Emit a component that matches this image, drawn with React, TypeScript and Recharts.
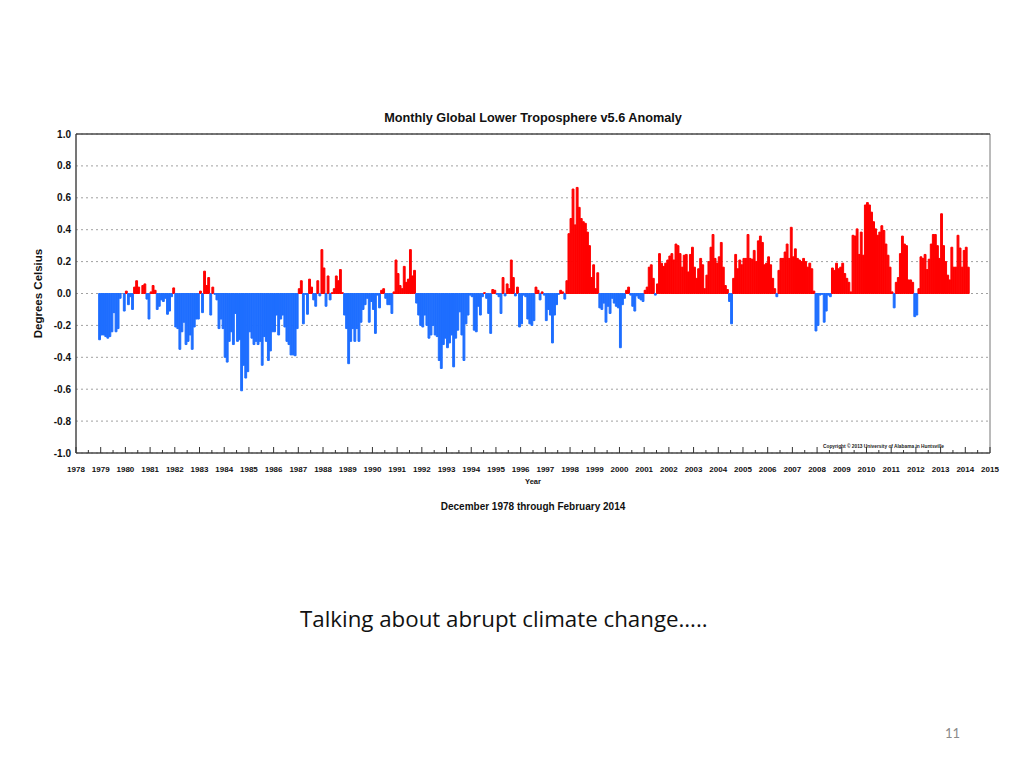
import React from 'react';
import { BarChart, Bar, XAxis, YAxis, CartesianGrid, Cell, ReferenceArea } from 'recharts';

// Monthly anomalies (deg C), December 1978 through February 2014
const START_YEAR = 1978;
const START_MONTH = 12;
const anomalies: number[] = [
  -0.29,
  // 1979
  -0.26, -0.26, -0.27, -0.28, -0.27, -0.24, -0.12, -0.24, -0.22, -0.03, 0.0, -0.11,
  // 1980
  0.015, -0.07, -0.02, -0.1, 0.04, 0.08, 0.04, 0.0, 0.05, 0.06, -0.035, -0.16,
  // 1981
  0.01, 0.05, 0.02, -0.1, -0.08, -0.04, -0.05, -0.03, -0.13, -0.11, -0.02, 0.035,
  // 1982
  -0.21, -0.22, -0.35, -0.24, -0.18, -0.32, -0.3, -0.26, -0.35, -0.21, -0.16, -0.16,
  // 1983
  0.015, -0.12, 0.14, 0.05, 0.1, -0.135, 0.04, -0.005, -0.04, -0.22, -0.16, -0.22,
  // 1984
  -0.4, -0.43, -0.3, -0.24, -0.32, -0.125, -0.3, -0.29, -0.61, -0.45, -0.53, -0.49,
  // 1985
  -0.24, -0.28, -0.32, -0.3, -0.32, -0.3, -0.45, -0.27, -0.3, -0.42, -0.36, -0.24,
  // 1986
  -0.24, -0.135, -0.26, -0.16, -0.135, -0.21, -0.3, -0.32, -0.385, -0.385, -0.39, -0.22,
  // 1987
  0.03, 0.08, -0.19, -0.005, -0.13, 0.09, 0.04, -0.04, -0.08, 0.08, -0.015, 0.275,
  // 1988
  0.16, -0.08, 0.11, -0.04, 0.005, 0.03, 0.11, 0.08, 0.15, 0.005, -0.135, -0.22,
  // 1989
  -0.44, -0.3, -0.22, -0.3, -0.22, -0.3, -0.18, -0.1, -0.07, -0.03, -0.18, -0.05,
  // 1990
  -0.1, -0.25, -0.01, -0.09, 0.02, 0.03, -0.03, -0.07, -0.07, -0.125, 0.01, 0.21,
  // 1991
  0.125, 0.05, 0.03, 0.17, 0.07, 0.09, 0.275, 0.11, 0.145, -0.06, -0.135, -0.2,
  // 1992
  -0.21, -0.135, -0.2, -0.28, -0.26, -0.2, -0.26, -0.27, -0.42, -0.47, -0.32, -0.28,
  // 1993
  -0.34, -0.31, -0.26, -0.46, -0.28, -0.23, -0.115, -0.26, -0.42, -0.19, -0.135, -0.01,
  // 1994
  -0.02, -0.23, -0.24, -0.08, -0.135, -0.02, 0.005, -0.03, -0.125, -0.25, 0.025, 0.02,
  // 1995
  -0.005, -0.02, -0.125, 0.1, -0.015, 0.06, 0.03, 0.21, 0.1, -0.015, 0.04, -0.21,
  // 1996
  -0.19, -0.01, -0.02, -0.16, -0.19, -0.2, -0.17, 0.04, 0.02, -0.04, 0.01, -0.01,
  // 1997
  -0.17, -0.1, -0.135, -0.31, -0.135, -0.07, -0.005, 0.02, 0.01, -0.035, 0.08, 0.375,
  // 1998
  0.47, 0.655, 0.43, 0.665, 0.54, 0.47, 0.45, 0.44, 0.385, 0.3, 0.1, 0.18,
  // 1999
  0.03, 0.13, -0.09, -0.1, -0.06, -0.18, -0.08, -0.125, -0.03, -0.06, -0.08, -0.09,
  // 2000
  -0.34, -0.07, -0.03, 0.02, 0.04, -0.01, -0.08, -0.11, -0.015, -0.03, -0.04, -0.05,
  // 2001
  0.02, 0.04, 0.165, 0.18, 0.095, -0.01, 0.06, 0.25, 0.19, 0.17, 0.19, 0.21,
  // 2002
  0.235, 0.25, 0.21, 0.31, 0.3, 0.25, 0.165, 0.24, 0.245, 0.135, 0.245, 0.29,
  // 2003
  0.165, 0.095, 0.155, 0.22, 0.18, 0.03, 0.115, 0.2, 0.29, 0.37, 0.22, 0.19,
  // 2004
  0.23, 0.32, 0.165, 0.05, 0.025, -0.05, -0.19, 0.095, 0.245, 0.155, 0.21, 0.18,
  // 2005
  0.22, 0.22, 0.37, 0.22, 0.215, 0.27, 0.2, 0.33, 0.36, 0.32, 0.18, 0.19,
  // 2006
  0.23, 0.18, 0.095, 0.03, -0.02, 0.145, 0.22, 0.22, 0.26, 0.31, 0.22, 0.415,
  // 2007
  0.23, 0.28, 0.22, 0.21, 0.2, 0.22, 0.2, 0.165, 0.19, 0.155, 0.015, -0.235,
  // 2008
  -0.2, -0.01, -0.005, -0.18, -0.11, -0.01, -0.02, 0.16, 0.145, 0.19, 0.155, 0.165,
  // 2009
  0.19, 0.125, 0.095, 0.07, 0.01, 0.365, 0.36, 0.405, 0.245, 0.385, 0.24, 0.555,
  // 2010
  0.57, 0.555, 0.51, 0.45, 0.405, 0.365, 0.385, 0.425, 0.395, 0.31, 0.24, 0.165,
  // 2011
  0.01, -0.09, 0.07, 0.1, 0.25, 0.36, 0.31, 0.3, 0.085, 0.085, 0.07, -0.145,
  // 2012
  -0.135, 0.03, 0.23, 0.22, 0.245, 0.15, 0.215, 0.31, 0.37, 0.37, 0.3, 0.22,
  // 2013
  0.5, 0.3, 0.2, 0.115, 0.085, 0.29, 0.165, 0.165, 0.365, 0.285, 0.165, 0.27,
  // 2014
  0.29, 0.165,
];

const yearTicks: number[] = [
  1978, 1979, 1980, 1981, 1982, 1983, 1984, 1985, 1986, 1987, 1988, 1989, 1990,
  1991, 1992, 1993, 1994, 1995, 1996, 1997, 1998, 1999, 2000, 2001, 2002, 2003,
  2004, 2005, 2006, 2007, 2008, 2009, 2010, 2011, 2012, 2013, 2014, 2015,
];
const halfYearTicks: number[] = yearTicks.slice(0, -1).map((y) => y + 0.5);
const xTicks: number[] = [...yearTicks, ...halfYearTicks].sort((a, b) => a - b);
const yTicks: number[] = [-1, -0.8, -0.6, -0.4, -0.2, 0, 0.2, 0.4, 0.6, 0.8, 1];

const data = anomalies.map((v, i) => {
  const m = START_MONTH - 1 + i;
  return { t: START_YEAR + m / 12 + 1 / 24, v };
});

const RED = '#ff0000';
const BLUE = '#1e6eff';
const FONT = "'Liberation Sans', Arial, Helvetica, sans-serif";

const BottomTick = (props: any) => {
  const { x, y, payload } = props;
  const major = Number.isInteger(payload.value);
  return (
    <g>
      <line x1={x} x2={x} y1={y} y2={y - (major ? 6 : 3)} stroke="#333" strokeWidth={1} />
      {major && (
        <text x={x} y={y + 19} textAnchor="middle" fontSize={8} fontWeight="bold" fill="#111" fontFamily={FONT}>
          {payload.value}
        </text>
      )}
    </g>
  );
};

const TopTick = (props: any) => {
  const { x, y, payload } = props;
  const major = Number.isInteger(payload.value);
  return <line x1={x} x2={x} y1={y} y2={y + (major ? 6 : 3)} stroke="#333" strokeWidth={1} />;
};

const YLabel = (props: any) => {
  const { viewBox } = props;
  const cx = viewBox.x + 42;
  const cy = viewBox.y + viewBox.height / 2;
  return (
    <text x={cx} y={cy} transform={`rotate(-90 ${cx} ${cy})`} textAnchor="middle" fontSize={11.5} fontWeight="bold" fill="#111" fontFamily={FONT}>
      Degrees Celsius
    </text>
  );
};

export default function App() {
  return (
    <div style={{ position: 'absolute', left: 0, top: 0, width: 1024, height: 768, background: '#fff', overflow: 'hidden', fontFamily: FONT }}>
      <div style={{ position: 'absolute', left: 0, width: 1066, top: 111, textAlign: 'center', fontSize: 12.7, fontWeight: 'bold', color: '#111' }}>
        Monthly Global Lower Troposphere v5.6 Anomaly
      </div>
      <div style={{ position: 'absolute', left: 0, top: 100 }}>
        <BarChart width={1024} height={400} data={data} margin={{ top: 33, right: 34, bottom: 17, left: 0 }}>
          <CartesianGrid vertical={false} stroke="#a0a0a0" strokeDasharray="2 3" xAxisId="bottom" />
          <XAxis
            xAxisId="bottom"
            dataKey="t"
            type="number"
            domain={[1978, 2015]}
            ticks={xTicks}
            interval={0}
            tickSize={0}
            tickMargin={0}
            tickLine={false}
            axisLine={{ stroke: '#333' }}
            tick={<BottomTick />}
            height={30}
            allowDataOverflow
          />
          <XAxis
            xAxisId="top"
            orientation="top"
            type="number"
            domain={[1978, 2015]}
            ticks={xTicks}
            interval={0}
            tickSize={0}
            tickMargin={0}
            tickLine={false}
            axisLine={{ stroke: '#333' }}
            tick={<TopTick />}
            height={1}
            allowDataOverflow
          />
          <YAxis
            type="number"
            domain={[-1, 1]}
            ticks={yTicks}
            interval={0}
            width={76}
            tickLine={false}
            tickSize={0}
            tickMargin={5}
            axisLine={{ stroke: '#333' }}
            tickFormatter={(v: number) => v.toFixed(1)}
            tick={{ fontSize: 10, fontWeight: 'bold', fill: '#111', fontFamily: FONT }}
            label={<YLabel />}
            allowDataOverflow
          />
          <Bar dataKey="v" xAxisId="bottom" barSize={2.7} isAnimationActive={false}>
            {data.map((d, i) => {
              const c = d.v >= 0 ? RED : BLUE;
              return <Cell key={i} fill={c} stroke={c} strokeWidth={1} />;
            })}
          </Bar>
          <ReferenceArea xAxisId="bottom" x1={1978} x2={2015} y1={-1} y2={1} fill="none" stroke="#777" strokeWidth={1} ifOverflow="visible" />
        </BarChart>
      </div>
      <div style={{ position: 'absolute', left: 823, top: 444, fontSize: 4.8, fontWeight: 'bold', color: '#222', whiteSpace: 'nowrap' }}>
        Copyright © 2013 University of Alabama in Huntsville
      </div>
      <div style={{ position: 'absolute', left: 0, width: 1066, top: 477, textAlign: 'center', fontSize: 7.5, fontWeight: 'bold', color: '#111' }}>
        Year
      </div>
      <div style={{ position: 'absolute', left: 0, width: 1066, top: 501, textAlign: 'center', fontSize: 10, fontWeight: 'bold', color: '#111' }}>
        December 1978 through February 2014
      </div>
      <div style={{ position: 'absolute', left: 300, top: 603, fontSize: 22.3, fontFamily: "'Open Sans', 'Noto Sans', sans-serif", color: '#111', whiteSpace: 'nowrap' }}>
        Talking about abrupt climate change…..
      </div>
      <div style={{ position: 'absolute', left: 945, top: 725, fontSize: 13, fontFamily: "Lato, 'Open Sans', sans-serif", color: '#8a8a8a' }}>
        11
      </div>
    </div>
  );
}
